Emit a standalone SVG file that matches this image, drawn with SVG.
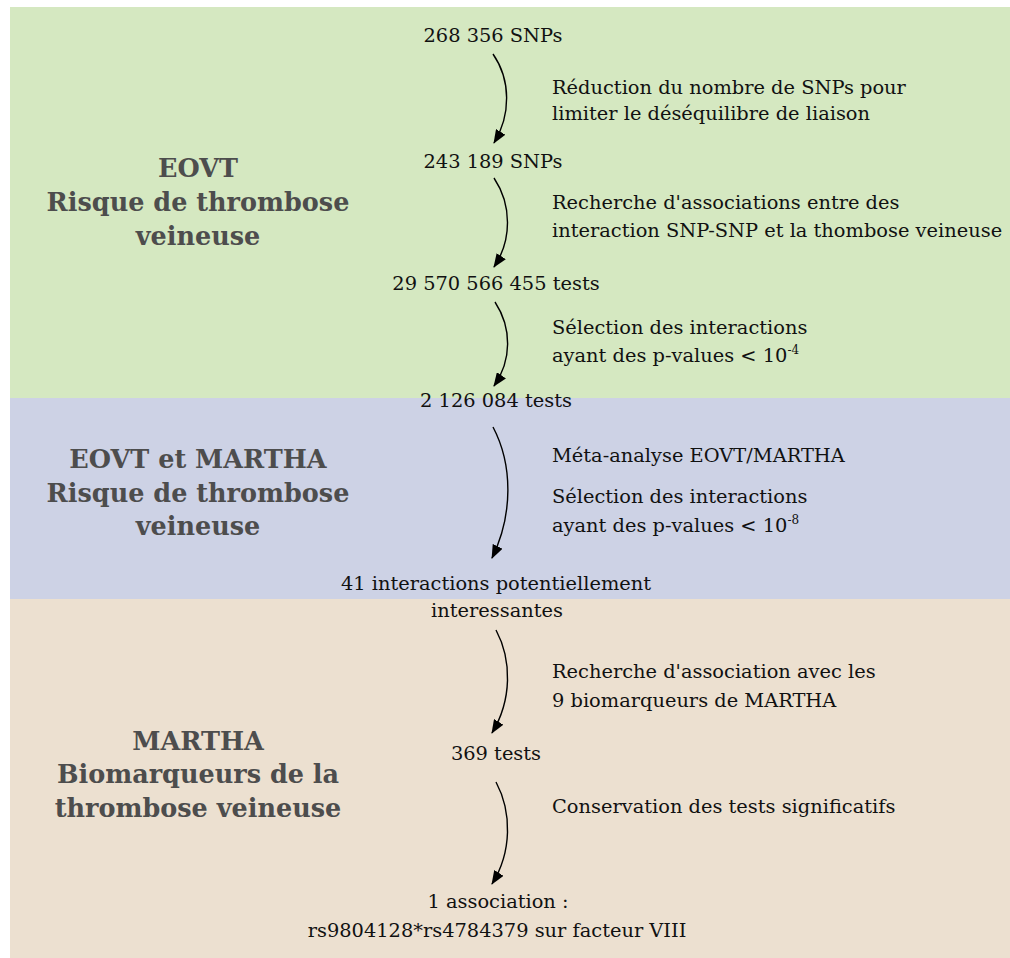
<svg xmlns="http://www.w3.org/2000/svg" width="1010" height="958" viewBox="0 0 1010 958">
<style>
.t{font-family:"DejaVu Serif","Liberation Serif",serif;font-size:19.4px;fill:#111}
.c{text-anchor:middle}
.h{font-family:"DejaVu Serif","Liberation Serif",serif;font-size:25.5px;font-weight:bold;fill:#4d4d4d;text-anchor:middle}
.a{fill:none;stroke:#000;stroke-width:1.4}
</style>
<defs>
<marker id="ah" viewBox="0 0 14 11" refX="13" refY="5.5" markerWidth="14" markerHeight="11" markerUnits="userSpaceOnUse" orient="auto">
<path d="M0,0 L14,5.5 L0,11 Z" fill="#000"/>
</marker>
</defs>
<g id="bands">
<rect x="10" y="7" width="1000" height="391" fill="#d5e8c1"/>
<rect x="10" y="398" width="1000" height="201" fill="#cdd2e5"/>
<rect x="10" y="599" width="1000" height="359" fill="#ece0d0"/>
</g>
<g id="titles">
<g id="title-eovt"><text class="h" x="198" y="177">EOVT</text><text class="h" x="198" y="211">Risque de thrombose</text><text class="h" x="198" y="245">veineuse</text></g>
<g id="title-meta"><text class="h" x="198" y="468">EOVT et MARTHA</text><text class="h" x="198" y="502">Risque de thrombose</text><text class="h" x="198" y="535">veineuse</text></g>
<g id="title-martha"><text class="h" x="198" y="750">MARTHA</text><text class="h" x="198" y="783">Biomarqueurs de la</text><text class="h" x="198" y="817">thrombose veineuse</text></g>
</g>
<g id="n1"><text class="t c" x="493" y="42">268 356 SNPs</text></g>
<g id="n2"><text class="t c" x="493" y="168">243 189 SNPs</text></g>
<g id="n3"><text class="t c" x="496" y="290">29 570 566 455 tests</text></g>
<g id="n4"><text class="t c" x="496" y="407">2 126 084 tests</text></g>
<g id="n5"><text class="t c" x="496" y="590">41 interactions potentiellement</text><text class="t c" x="497" y="617">interessantes</text></g>
<g id="n6"><text class="t c" x="496" y="760">369 tests</text></g>
<g id="n7"><text class="t c" x="498" y="908">1 association :</text><text class="t c" x="497" y="937">rs9804128*rs4784379 sur facteur VIII</text></g>
<g id="labels">
<text class="t" x="552" y="94">Réduction du nombre de SNPs pour</text>
<text class="t" x="552" y="120">limiter le déséquilibre de liaison</text>
<text class="t" x="552" y="209">Recherche d'associations entre des</text>
<text class="t" x="552" y="237">interaction SNP-SNP et la thombose veineuse</text>
<text class="t" x="552" y="334">Sélection des interactions</text>
<text class="t" x="552" y="362">ayant des p-values &lt; 10<tspan font-size="12" dy="-8">-4</tspan></text>
<text class="t" x="552" y="462">Méta-analyse EOVT/MARTHA</text>
<text class="t" x="552" y="503">Sélection des interactions</text>
<text class="t" x="552" y="532">ayant des p-values &lt; 10<tspan font-size="12" dy="-8">-8</tspan></text>
<text class="t" x="552" y="678">Recherche d'association avec les</text>
<text class="t" x="552" y="707">9 biomarqueurs de MARTHA</text>
<text class="t" x="552" y="813">Conservation des tests significatifs</text>
</g>
<g id="connectors">
<path class="a" marker-end="url(#ah)" d="M493,54 C511,80 511,115 494,143"/>
<path class="a" marker-end="url(#ah)" d="M494,178 C512,205 512,240 494,267"/>
<path class="a" marker-end="url(#ah)" d="M495,302 C512,328 512,360 494,386"/>
<path class="a" marker-end="url(#ah)" d="M493,427 C513,465 513,515 492,558"/>
<path class="a" marker-end="url(#ah)" d="M496,630 C512,660 512,700 492,733"/>
<path class="a" marker-end="url(#ah)" d="M496,782 C512,812 512,852 492,884"/>
</g>
</svg>
